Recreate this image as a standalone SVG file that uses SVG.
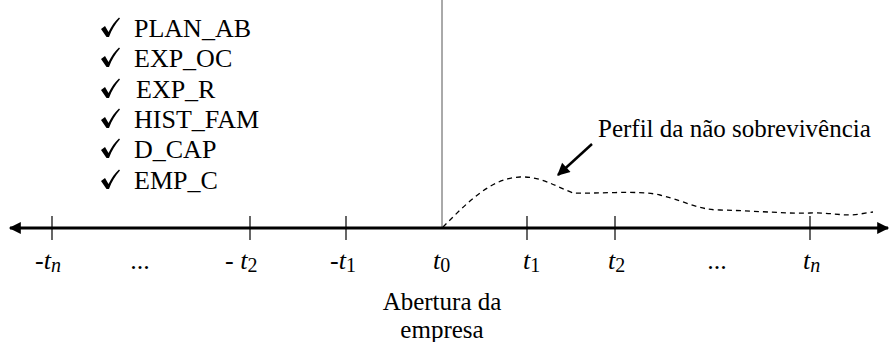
<svg xmlns="http://www.w3.org/2000/svg" width="890" height="342" viewBox="0 0 890 342">
<defs>
<path id="chk" d="M0,-8 L4,-11 L7.5,-5 C10.5,-11 14,-16 18,-19.5 L19,-18.5 C14.5,-13.5 10.5,-7 8,0 L5.5,0 Z" fill="#000"/>
<marker id="ah" viewBox="0 0 10 10" refX="9" refY="5" markerWidth="5" markerHeight="4" orient="auto" markerUnits="strokeWidth">
<path d="M0,0 L10,5 L0,10 Z" fill="#000"/>
</marker>
<marker id="ah2" viewBox="0 0 10 10" refX="9" refY="5" markerWidth="6" markerHeight="5" orient="auto" markerUnits="strokeWidth">
<path d="M0,0 L10,5 L0,10 Z" fill="#000"/>
</marker>
</defs>
<g id="checklist" fill="#000">
<use href="#chk" x="101" y="37"/>
<use href="#chk" x="101" y="67"/>
<use href="#chk" x="101" y="98"/>
<use href="#chk" x="101" y="128"/>
<use href="#chk" x="101" y="158"/>
<use href="#chk" x="101" y="189"/>
<text font-family="Liberation Serif" font-size="26" x="134" y="37">PLAN_AB</text>
<text font-family="Liberation Serif" font-size="26" x="134" y="67">EXP_OC</text>
<text font-family="Liberation Serif" font-size="26" x="136" y="98">EXP_R</text>
<text font-family="Liberation Serif" font-size="26" x="134" y="128">HIST_FAM</text>
<text font-family="Liberation Serif" font-size="26" x="134" y="158">D_CAP</text>
<text font-family="Liberation Serif" font-size="26" x="134" y="189">EMP_C</text>
</g>
<g id="connectors">
<line x1="442" y1="0" x2="442" y2="228" stroke="#555" stroke-width="1"/>
<line id="axis-right" x1="442" y1="228" x2="888" y2="228" stroke="#000" stroke-width="3" marker-end="url(#ah)"/>
<line id="axis-left" x1="442" y1="228" x2="10" y2="228" stroke="#000" stroke-width="3" marker-end="url(#ah)"/>
<path id="profile" d="M443,227 C465,205 490,178 520,177 C540,176 555,186 573,193 C595,194 640,190 660,195 C690,203 700,210 720,210 C760,211 790,214 810,213 C830,212 845,217 860,214 L873,212" fill="none" stroke="#000" stroke-width="1.3" stroke-dasharray="5,4"/>
<line id="pointer" x1="592" y1="144" x2="558" y2="175" stroke="#000" stroke-width="2.5" marker-end="url(#ah2)"/>
</g>
<g id="ticks" stroke="#000" stroke-width="1.2">
<line x1="52" y1="216" x2="52" y2="240"/>
<line x1="250" y1="216" x2="250" y2="240"/>
<line x1="346" y1="216" x2="346" y2="240"/>
<line x1="527" y1="216" x2="527" y2="240"/>
<line x1="615" y1="216" x2="615" y2="240"/>
<line x1="810" y1="216" x2="810" y2="240"/>
</g>
<g id="labels" fill="#000">
<text font-family="Liberation Serif" font-size="26" x="35" y="269">-<tspan font-style="italic">t</tspan><tspan font-style="italic" font-size="20" dy="3">n</tspan></text>
<text font-family="Liberation Serif" font-size="26" x="140" y="269" text-anchor="middle">...</text>
<text font-family="Liberation Serif" font-size="26" x="225" y="269">- <tspan font-style="italic">t</tspan><tspan font-size="20" dy="3">2</tspan></text>
<text font-family="Liberation Serif" font-size="26" x="330" y="269">-<tspan font-style="italic">t</tspan><tspan font-size="20" dy="3">1</tspan></text>
<text font-family="Liberation Serif" font-size="26" x="433" y="269"><tspan font-style="italic">t</tspan><tspan font-size="20" dy="3">0</tspan></text>
<text font-family="Liberation Serif" font-size="26" x="523" y="269"><tspan font-style="italic">t</tspan><tspan font-size="20" dy="3">1</tspan></text>
<text font-family="Liberation Serif" font-size="26" x="608" y="269"><tspan font-style="italic">t</tspan><tspan font-size="20" dy="3">2</tspan></text>
<text font-family="Liberation Serif" font-size="26" x="717" y="269" text-anchor="middle">...</text>
<text font-family="Liberation Serif" font-size="26" x="803" y="269"><tspan font-style="italic">t</tspan><tspan font-style="italic" font-size="20" dy="3">n</tspan></text>
</g>
<g id="annotation" fill="#000">
<text font-family="Liberation Serif" x="598" y="137" font-size="25">Perfil da n&#227;o sobreviv&#234;ncia</text>
</g>
<g id="opening" fill="#000">
<text font-family="Liberation Serif" x="442" y="310" font-size="25" text-anchor="middle">Abertura da</text>
<text font-family="Liberation Serif" x="442" y="338" font-size="25" text-anchor="middle">empresa</text>
</g>
</svg>
